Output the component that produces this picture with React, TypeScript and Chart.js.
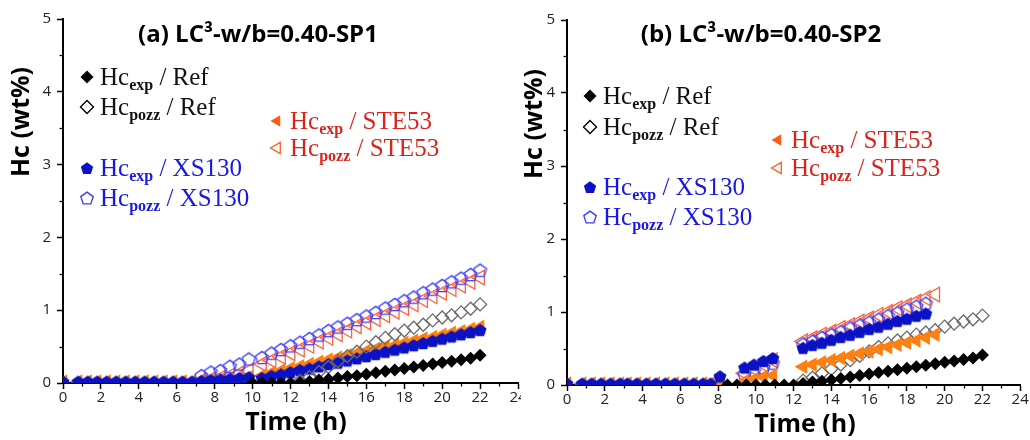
import React, { useEffect, useRef } from "react";
import { Chart, registerables } from "chart.js";

Chart.register(...registerables);

// ---------- axis ticks ----------
const X_TICKS = [0, 2, 4, 6, 8, 10, 12, 14, 16, 18, 20, 22, 24];
const X_MINOR = [1, 3, 5, 7, 9, 11, 13, 15, 17, 19, 21, 23];
const Y_TICKS = [0, 1, 2, 3, 4, 5];
const Y_MINOR = [0.5, 1.5, 2.5, 3.5, 4.5];

// ---------- panel (a) ----------
const A_T_EARLY = [0, 0.8, 1.3, 1.8, 2.3, 2.8, 3.3, 3.8, 4.3, 4.8, 5.3, 5.8, 6.3, 6.8];
const A_T_MID = [7.3, 7.8, 8.3, 8.8, 9.3, 9.8];
const A_T_LATE = [10.5, 11, 11.5, 12, 12.5, 13, 13.5, 14, 14.5, 15, 15.5, 16, 16.5, 17, 17.5, 18, 18.5, 19, 19.5, 20, 20.5, 21, 21.5, 22];
const A_T_REF_EXP = [10, 10.5, 11, 11.5, 12, 12.5, 13, 13.5, 14, 14.5, 15, 15.5, 16, 16.5, 17, 17.5, 18, 18.5, 19, 19.5, 20, 20.5, 21, 21.5, 22];
const A_T_REF_POZZ = [12.5, 13, 13.5, 14, 14.5, 15, 15.5, 16, 16.5, 17, 17.5, 18, 18.5, 19, 19.5, 20, 20.5, 21, 21.5, 22];

const A_REF_EXP = [0, 0, 0, 0, 0, 0.01, 0.02, 0.04, 0.05, 0.07, 0.09, 0.1, 0.12, 0.14, 0.16, 0.18, 0.2, 0.22, 0.24, 0.26, 0.28, 0.3, 0.32, 0.34, 0.38];
const A_REF_POZZ = [0.03, 0.08, 0.15, 0.22, 0.3, 0.37, 0.43, 0.5, 0.56, 0.62, 0.67, 0.72, 0.76, 0.8, 0.86, 0.9, 0.93, 0.97, 1.02, 1.08];

const A_STE_EXP_EARLY = [0.02, 0.02, 0.02, 0.02, 0.02, 0.02, 0.02, 0.02, 0.02, 0.02, 0.02, 0.02, 0.02, 0.02];
const A_STE_EXP_MID = [0.03, 0.04, 0.05, 0.06, 0.07, 0.08];
const A_STE_EXP_LATE = [0.1, 0.14, 0.17, 0.2, 0.23, 0.26, 0.29, 0.32, 0.35, 0.38, 0.41, 0.44, 0.47, 0.5, 0.52, 0.55, 0.58, 0.61, 0.63, 0.66, 0.69, 0.71, 0.74, 0.77];
const A_STE_POZZ_MID = [0.03, 0.05, 0.07, 0.1, 0.13, 0.17];
const A_STE_POZZ_LATE = [0.26, 0.31, 0.36, 0.41, 0.46, 0.51, 0.57, 0.62, 0.67, 0.72, 0.78, 0.83, 0.88, 0.93, 0.98, 1.03, 1.08, 1.14, 1.19, 1.24, 1.29, 1.34, 1.39, 1.45];

const A_XS_EXP_EARLY = [0.02, 0.02, 0.02, 0.02, 0.02, 0.02, 0.02, 0.02, 0.02, 0.02, 0.02, 0.02, 0.02, 0.02];
const A_XS_EXP_MID = [0.03, 0.04, 0.05, 0.06, 0.07, 0.08];
const A_XS_EXP_LATE = [0.07, 0.1, 0.12, 0.15, 0.18, 0.2, 0.23, 0.26, 0.28, 0.31, 0.34, 0.37, 0.4, 0.43, 0.46, 0.49, 0.52, 0.55, 0.58, 0.61, 0.64, 0.67, 0.7, 0.73];
const A_XS_POZZ_MID = [0.1, 0.15, 0.17, 0.23, 0.26, 0.33];
const A_XS_POZZ_LATE = [0.35, 0.41, 0.46, 0.51, 0.56, 0.61, 0.66, 0.72, 0.77, 0.82, 0.87, 0.92, 0.97, 1.03, 1.08, 1.13, 1.18, 1.24, 1.29, 1.34, 1.39, 1.44, 1.49, 1.55];

// ---------- panel (b) ----------
const B_T_EARLY = [0, 0.8, 1.3, 1.8, 2.3, 2.8, 3.2, 3.7, 4.2, 4.7, 5.2, 5.7, 6.2, 6.7, 7.2, 7.6, 8.1];
const B_T_MID = [9.4, 9.9, 10.4, 10.9];
const B_T_LATE_STE = [12.5, 13, 13.5, 14, 14.5, 15, 15.5, 16, 16.5, 17, 17.5, 18, 18.5, 19, 19.5];
const B_T_LATE_XS = [12.5, 13, 13.5, 14, 14.5, 15, 15.5, 16, 16.5, 17, 17.5, 18, 18.5, 19];
const B_T_REF_EXP = [8.5, 9, 9.5, 10, 10.5, 11, 11.5, 12, 12.5, 13, 13.5, 14, 14.5, 15, 15.5, 16, 16.5, 17, 17.5, 18, 18.5, 19, 19.5, 20, 20.5, 21, 21.5, 22];
const B_T_REF_POZZ = [12.5, 13, 13.5, 14, 14.5, 15, 15.5, 16, 16.5, 17, 17.5, 18, 18.5, 19, 19.5, 20, 20.5, 21, 21.5, 22];

const B_REF_EXP = [0, 0, 0, 0, 0, 0, 0, 0, 0.02, 0.04, 0.05, 0.07, 0.09, 0.11, 0.13, 0.15, 0.17, 0.19, 0.21, 0.23, 0.25, 0.27, 0.29, 0.31, 0.33, 0.35, 0.37, 0.41];
const B_REF_POZZ = [0.06, 0.1, 0.16, 0.22, 0.28, 0.34, 0.4, 0.46, 0.52, 0.57, 0.61, 0.65, 0.69, 0.72, 0.75, 0.8, 0.84, 0.87, 0.9, 0.95];

const B_STE_EXP_EARLY = [0.02, 0.02, 0.02, 0.02, 0.02, 0.02, 0.02, 0.02, 0.02, 0.02, 0.02, 0.02, 0.02, 0.02, 0.02, 0.02, 0.02];
const B_STE_EXP_MID = [0.05, 0.08, 0.11, 0.13];
const B_STE_EXP_LATE = [0.25, 0.28, 0.31, 0.34, 0.37, 0.4, 0.43, 0.46, 0.49, 0.52, 0.55, 0.58, 0.61, 0.65, 0.69];
const B_STE_POZZ_MID = [0.16, 0.22, 0.28, 0.34];
const B_STE_POZZ_LATE = [0.6, 0.64, 0.69, 0.73, 0.78, 0.82, 0.87, 0.91, 0.96, 1.0, 1.05, 1.09, 1.14, 1.19, 1.24];

const B_XS_EXP_EARLY = [0.02, 0.02, 0.02, 0.02, 0.02, 0.02, 0.02, 0.02, 0.02, 0.02, 0.02, 0.02, 0.02, 0.02, 0.02, 0.02, 0.12];
const B_XS_EXP_MID = [0.24, 0.28, 0.33, 0.37];
const B_XS_EXP_LATE = [0.51, 0.55, 0.58, 0.62, 0.66, 0.69, 0.73, 0.77, 0.8, 0.84, 0.88, 0.91, 0.95, 0.98];
const B_XS_POZZ_MID = [0.14, 0.19, 0.24, 0.3];
const B_XS_POZZ_LATE = [0.56, 0.6, 0.65, 0.69, 0.73, 0.78, 0.82, 0.86, 0.9, 0.95, 0.99, 1.04, 1.08, 1.12];

// ---------- labels ----------
const TITLE_A = "(a) LC³-w/b=0.40-SP1";
const TITLE_B = "(b) LC³-w/b=0.40-SP2";
const Y_TITLE = "Hc (wt%)";
const X_TITLE = "Time (h)";
const LEG_REF = "Ref";
const LEG_STE = "STE53";
const LEG_XS = "XS130";
const SUB_EXP = "exp";
const SUB_POZZ = "pozz";

// ---------- colours ----------
const C_BLACK = "#000000";
const C_GREY = "#6a6a6a";
const C_ORANGE = "#ff7f10";
const C_ORANGE_OPEN = "#ff6440";
const C_BLUE = "#0a12c4";
const C_BLUE_OPEN = "#3c3cff";
const C_TXT_BLUE = "#1818e0";
const C_TXT_RED = "#d8241c";
const C_LEG_TRI = "#ff5a18";

function zip(ts: number[], ys: number[]) {
  return ts.map((t, i) => ({ x: t, y: ys[i] }));
}

function pentPath(ctx: CanvasRenderingContext2D, cx: number, cy: number, r: number) {
  ctx.beginPath();
  for (let i = 0; i < 5; i++) {
    const a = (-90 + 72 * i) * Math.PI / 180;
    const px = cx + r * Math.cos(a);
    const py = cy + r * Math.sin(a);
    if (i === 0) ctx.moveTo(px, py);
    else ctx.lineTo(px, py);
  }
  ctx.closePath();
}

function pentagonCanvas(r: number, filled: boolean, color: string, lw: number) {
  const size = Math.ceil(2 * r + lw + 4);
  const c = document.createElement("canvas");
  c.width = size;
  c.height = size;
  const ctx = c.getContext("2d")!;
  pentPath(ctx, size / 2, size / 2 + r * 0.1, r);
  if (filled) {
    ctx.fillStyle = color;
    ctx.fill();
  } else {
    ctx.strokeStyle = color;
    ctx.lineWidth = lw;
    ctx.stroke();
  }
  return c;
}

function drawDiamond(ctx: CanvasRenderingContext2D, x: number, y: number, r: number, filled: boolean, color: string) {
  ctx.beginPath();
  ctx.moveTo(x, y - r);
  ctx.lineTo(x + r, y);
  ctx.lineTo(x, y + r);
  ctx.lineTo(x - r, y);
  ctx.closePath();
  if (filled) { ctx.fillStyle = color; ctx.fill(); }
  else { ctx.strokeStyle = color; ctx.lineWidth = 1.4; ctx.stroke(); }
}

function drawLeftTri(ctx: CanvasRenderingContext2D, x: number, y: number, r: number, filled: boolean, color: string) {
  ctx.beginPath();
  ctx.moveTo(x - r, y);
  ctx.lineTo(x + r * 0.5, y - r * 0.866);
  ctx.lineTo(x + r * 0.5, y + r * 0.866);
  ctx.closePath();
  if (filled) { ctx.fillStyle = color; ctx.fill(); }
  else { ctx.strokeStyle = color; ctx.lineWidth = 1.3; ctx.stroke(); }
}

function drawPent(ctx: CanvasRenderingContext2D, x: number, y: number, r: number, filled: boolean, color: string) {
  pentPath(ctx, x, y + r * 0.1, r);
  if (filled) { ctx.fillStyle = color; ctx.fill(); }
  else { ctx.strokeStyle = color; ctx.lineWidth = 1.4; ctx.stroke(); }
}

type LegendItem = {
  x: number; y: number; marker: string; filled: boolean; mcolor: string;
  tcolor: string; sub: string; name: string;
};

type PanelCfg = {
  title: string; titleX: number; titleY: number;
  yTitleX: number; yTitleY: number; xTitleX: number; xTitleY: number;
  legend: LegendItem[];
};

function makeDecor(cfg: PanelCfg) {
  return {
    id: "decor",
    beforeDraw(chart: any) {
      const ctx = chart.ctx;
      ctx.save();
      ctx.fillStyle = "#ffffff";
      ctx.fillRect(0, 0, chart.width, chart.height);
      ctx.restore();
    },
    afterDraw(chart: any) {
      const ctx: CanvasRenderingContext2D = chart.ctx;
      const xs = chart.scales.x;
      const ys = chart.scales.y;
      const area = chart.chartArea;
      ctx.save();
      // minor ticks
      ctx.strokeStyle = "#000";
      ctx.lineWidth = 1.3;
      X_MINOR.forEach((v) => {
        const px = Math.round(xs.getPixelForValue(v)) + 0.5;
        ctx.beginPath();
        ctx.moveTo(px, area.bottom);
        ctx.lineTo(px, area.bottom + 3.5);
        ctx.stroke();
      });
      Y_MINOR.forEach((v) => {
        const py = Math.round(ys.getPixelForValue(v)) + 0.5;
        ctx.beginPath();
        ctx.moveTo(area.left, py);
        ctx.lineTo(area.left - 3.5, py);
        ctx.stroke();
      });
      // title
      ctx.fillStyle = "#000";
      ctx.font = 'bold 24px "Open Sans"';
      ctx.textAlign = "center";
      ctx.textBaseline = "middle";
      ctx.fillText(cfg.title, cfg.titleX, cfg.titleY);
      // axis titles
      ctx.font = 'bold 25px "Open Sans"';
      ctx.fillText(X_TITLE, cfg.xTitleX, cfg.xTitleY);
      ctx.save();
      ctx.translate(cfg.yTitleX, cfg.yTitleY);
      ctx.rotate(-Math.PI / 2);
      ctx.fillText(Y_TITLE, 0, 0);
      ctx.restore();
      // legend
      ctx.textAlign = "left";
      ctx.textBaseline = "alphabetic";
      cfg.legend.forEach((it) => {
        if (it.marker === "diamond") drawDiamond(ctx, it.x, it.y, 6.5, it.filled, it.mcolor);
        else if (it.marker === "tri") drawLeftTri(ctx, it.x, it.y, 6.5, it.filled, it.mcolor);
        else drawPent(ctx, it.x, it.y, 6.5, it.filled, it.mcolor);
        let tx = it.x + 13;
        const base = it.y + 8;
        ctx.fillStyle = it.tcolor;
        ctx.font = '25px "Liberation Serif"';
        ctx.fillText("Hc", tx, base);
        tx += ctx.measureText("Hc").width;
        ctx.font = 'bold 16px "Liberation Serif"';
        ctx.fillText(it.sub, tx, base + 5);
        tx += ctx.measureText(it.sub).width;
        ctx.font = '25px "Liberation Serif"';
        ctx.fillText(" / " + it.name, tx, base);
      });
      ctx.restore();
    },
  };
}

function buildChart(canvas: HTMLCanvasElement, datasets: any[], cfg: PanelCfg, yW: number, xH: number, padTop: number, padRight: number) {
  const tickFont = { family: '"Open Sans"', size: 15 };
  return new Chart(canvas, {
    type: "scatter",
    data: { datasets },
    options: {
      responsive: false,
      animation: false,
      events: [],
      layout: { padding: { top: padTop, right: padRight, left: 0, bottom: 0 } },
      plugins: { legend: { display: false }, tooltip: { enabled: false }, title: { display: false } },
      scales: {
        x: {
          type: "linear",
          min: 0,
          max: 24,
          afterFit: (s: any) => { s.height = xH; },
          afterBuildTicks: (s: any) => { s.ticks = X_TICKS.map((v) => ({ value: v })); },
          grid: { drawOnChartArea: false, drawTicks: true, tickLength: 6, tickColor: "#000", tickWidth: 1.5 },
          border: { display: true, color: "#000", width: 2 },
          ticks: { font: tickFont, color: "#222", padding: 0, maxRotation: 0, autoSkip: false },
        },
        y: {
          type: "linear",
          min: 0,
          max: 5,
          afterFit: (s: any) => { s.width = yW; },
          afterBuildTicks: (s: any) => { s.ticks = Y_TICKS.map((v) => ({ value: v })); },
          grid: { drawOnChartArea: false, drawTicks: true, tickLength: 6, tickColor: "#000", tickWidth: 1.5 },
          border: { display: true, color: "#000", width: 2 },
          ticks: { font: tickFont, color: "#222", padding: 6, autoSkip: false },
        },
      },
    },
    plugins: [makeDecor(cfg)],
  } as any);
}

function ds(points: any[], style: any, filled: boolean, color: string, radius: number, rotation = 0) {
  return {
    data: points,
    pointStyle: style,
    pointRadius: radius,
    pointRotation: rotation,
    pointBackgroundColor: filled ? color : "rgba(0,0,0,0)",
    pointBorderColor: color,
    pointBorderWidth: filled ? 0 : 1.3,
    showLine: false,
    clip: 0,
  };
}

export default function App() {
  const refA = useRef<HTMLCanvasElement>(null);
  const refB = useRef<HTMLCanvasElement>(null);

  useEffect(() => {
    const pentFilled = pentagonCanvas(6.8, true, C_BLUE, 0);
    const pentOpen = pentagonCanvas(6.8, false, C_BLUE_OPEN, 1.3);

    const dsA = [
      ds(zip(A_T_REF_EXP, A_REF_EXP), "rectRot", true, C_BLACK, 6.5),
      ds(zip(A_T_REF_POZZ, A_REF_POZZ), "rectRot", false, C_GREY, 6.5),
      ds(zip([...A_T_EARLY, ...A_T_MID, ...A_T_LATE], [...A_XS_EXP_EARLY, ...A_XS_EXP_MID, ...A_XS_EXP_LATE]), pentFilled, true, C_BLUE, 6.8),
      ds(zip([...A_T_MID, ...A_T_LATE], [...A_XS_POZZ_MID, ...A_XS_POZZ_LATE]), pentOpen, false, C_BLUE_OPEN, 6.8),
      ds(zip([...A_T_EARLY, ...A_T_MID, ...A_T_LATE], [...A_STE_EXP_EARLY, ...A_STE_EXP_MID, ...A_STE_EXP_LATE]), "triangle", true, C_ORANGE, 8.5, -90),
      ds(zip([...A_T_MID, ...A_T_LATE], [...A_STE_POZZ_MID, ...A_STE_POZZ_LATE]), "triangle", false, C_ORANGE_OPEN, 8.5, -90),
    ];
    const dsB = [
      ds(zip(B_T_REF_EXP, B_REF_EXP), "rectRot", true, C_BLACK, 6.5),
      ds(zip([...B_T_EARLY, ...B_T_MID, ...B_T_LATE_XS], [...B_XS_EXP_EARLY, ...B_XS_EXP_MID, ...B_XS_EXP_LATE]), pentFilled, true, C_BLUE, 6.8),
      ds(zip([...B_T_EARLY, ...B_T_MID, ...B_T_LATE_STE], [...B_STE_EXP_EARLY, ...B_STE_EXP_MID, ...B_STE_EXP_LATE]), "triangle", true, C_ORANGE, 8.5, -90),
      ds(zip(B_T_REF_POZZ, B_REF_POZZ), "rectRot", false, C_GREY, 6.5),
      ds(zip([...B_T_MID, ...B_T_LATE_XS], [...B_XS_POZZ_MID, ...B_XS_POZZ_LATE]), pentOpen, false, C_BLUE_OPEN, 6.8),
      ds(zip([...B_T_MID, ...B_T_LATE_STE], [...B_STE_POZZ_MID, ...B_STE_POZZ_LATE]), "triangle", false, C_ORANGE_OPEN, 8.5, -90),
    ];

    const legendA: LegendItem[] = [
      { x: 87, y: 77, marker: "diamond", filled: true, mcolor: C_BLACK, tcolor: "#111", sub: SUB_EXP, name: LEG_REF },
      { x: 87, y: 107, marker: "diamond", filled: false, mcolor: C_BLACK, tcolor: "#111", sub: SUB_POZZ, name: LEG_REF },
      { x: 277, y: 121, marker: "tri", filled: true, mcolor: C_LEG_TRI, tcolor: C_TXT_RED, sub: SUB_EXP, name: LEG_STE },
      { x: 277, y: 148, marker: "tri", filled: false, mcolor: C_LEG_TRI, tcolor: C_TXT_RED, sub: SUB_POZZ, name: LEG_STE },
      { x: 87, y: 168, marker: "pent", filled: true, mcolor: C_BLUE, tcolor: C_TXT_BLUE, sub: SUB_EXP, name: LEG_XS },
      { x: 87, y: 198, marker: "pent", filled: false, mcolor: C_BLUE_OPEN, tcolor: C_TXT_BLUE, sub: SUB_POZZ, name: LEG_XS },
    ];
    const OX = 521;
    const legendB: LegendItem[] = [
      { x: 590 - OX, y: 96, marker: "diamond", filled: true, mcolor: C_BLACK, tcolor: "#111", sub: SUB_EXP, name: LEG_REF },
      { x: 590 - OX, y: 127, marker: "diamond", filled: false, mcolor: C_BLACK, tcolor: "#111", sub: SUB_POZZ, name: LEG_REF },
      { x: 778 - OX, y: 140, marker: "tri", filled: true, mcolor: C_LEG_TRI, tcolor: C_TXT_RED, sub: SUB_EXP, name: LEG_STE },
      { x: 778 - OX, y: 168, marker: "tri", filled: false, mcolor: C_LEG_TRI, tcolor: C_TXT_RED, sub: SUB_POZZ, name: LEG_STE },
      { x: 590 - OX, y: 187, marker: "pent", filled: true, mcolor: C_BLUE, tcolor: C_TXT_BLUE, sub: SUB_EXP, name: LEG_XS },
      { x: 590 - OX, y: 217, marker: "pent", filled: false, mcolor: C_BLUE_OPEN, tcolor: C_TXT_BLUE, sub: SUB_POZZ, name: LEG_XS },
    ];

    const chartA = buildChart(refA.current!, dsA, {
      title: TITLE_A, titleX: 258, titleY: 35,
      yTitleX: 22, yTitleY: 122, xTitleX: 296, xTitleY: 423, legend: legendA,
    }, 63, 57, 19, 12);
    const chartB = buildChart(refB.current!, dsB, {
      title: TITLE_B, titleX: 761 - OX, titleY: 35,
      yTitleX: 535 - OX, yTitleY: 124, xTitleX: 805 - OX, xTitleY: 425, legend: legendB,
    }, 46, 55, 20, 9);

    return () => {
      chartA.destroy();
      chartB.destroy();
    };
  }, []);

  return (
    <div style={{ position: "absolute", left: 0, top: 0, width: 1030, height: 440, background: "#fff", overflow: "hidden" }}>
      <canvas ref={refA} width={530} height={440} style={{ position: "absolute", left: 0, top: 0, width: 530, height: 440 }} />
      <canvas ref={refB} width={509} height={440} style={{ position: "absolute", left: 521, top: 0, width: 509, height: 440 }} />
    </div>
  );
}
